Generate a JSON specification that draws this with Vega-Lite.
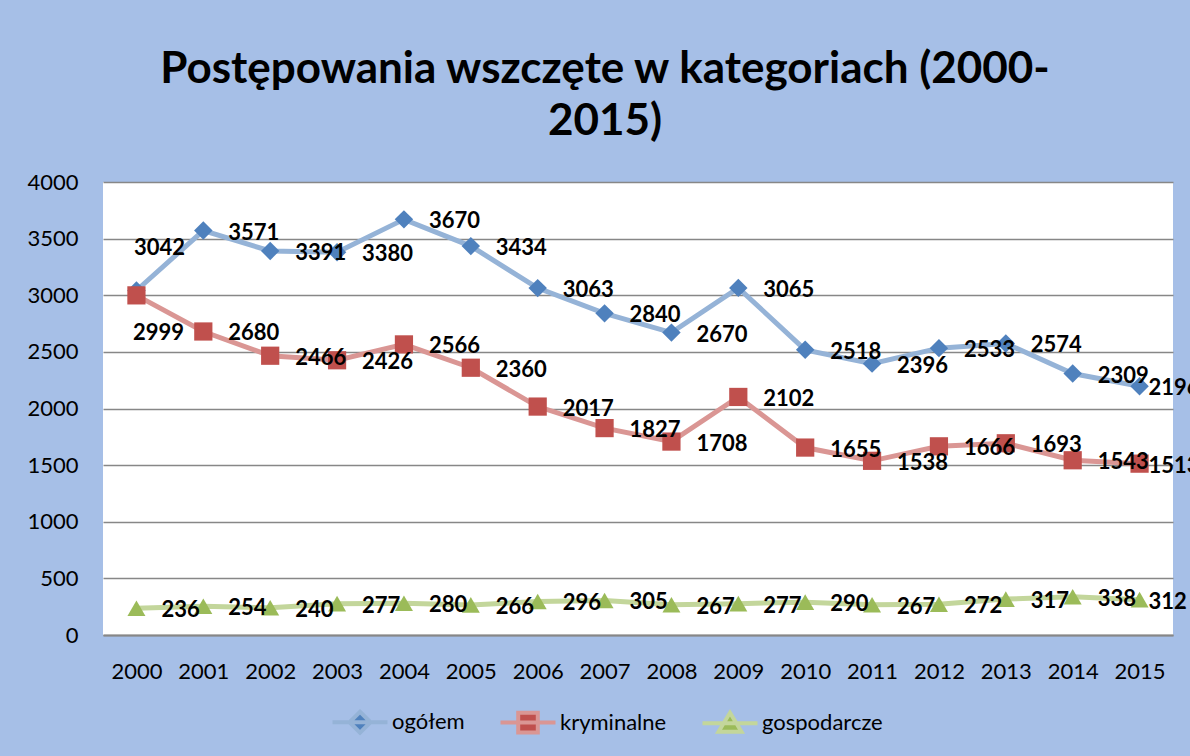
{
  "$schema": "https://vega.github.io/schema/vega-lite/v6.json",
  "width": 1070,
  "height": 453,
  "autosize": {"type": "none"},
  "padding": {"left": 103, "top": 182, "right": 17, "bottom": 121},
  "background": "#A6BFE7",
  "title": {
    "text": ["Postępowania wszczęte w kategoriach (2000-", "2015)"],
    "font": "Lato",
    "fontSize": 44,
    "fontWeight": "bold",
    "color": "#000000",
    "anchor": "middle",
    "frame": "group",
    "dx": -33,
    "lineHeight": 52,
    "offset": 27
  },
  "data": {
    "values": [
      {"year": 2000, "series": "ogółem", "value": 3042},
      {"year": 2001, "series": "ogółem", "value": 3571},
      {"year": 2002, "series": "ogółem", "value": 3391},
      {"year": 2003, "series": "ogółem", "value": 3380},
      {"year": 2004, "series": "ogółem", "value": 3670},
      {"year": 2005, "series": "ogółem", "value": 3434},
      {"year": 2006, "series": "ogółem", "value": 3063},
      {"year": 2007, "series": "ogółem", "value": 2840},
      {"year": 2008, "series": "ogółem", "value": 2670},
      {"year": 2009, "series": "ogółem", "value": 3065},
      {"year": 2010, "series": "ogółem", "value": 2518},
      {"year": 2011, "series": "ogółem", "value": 2396},
      {"year": 2012, "series": "ogółem", "value": 2533},
      {"year": 2013, "series": "ogółem", "value": 2574},
      {"year": 2014, "series": "ogółem", "value": 2309},
      {"year": 2015, "series": "ogółem", "value": 2196},
      {"year": 2000, "series": "kryminalne", "value": 2999},
      {"year": 2001, "series": "kryminalne", "value": 2680},
      {"year": 2002, "series": "kryminalne", "value": 2466},
      {"year": 2003, "series": "kryminalne", "value": 2426},
      {"year": 2004, "series": "kryminalne", "value": 2566},
      {"year": 2005, "series": "kryminalne", "value": 2360},
      {"year": 2006, "series": "kryminalne", "value": 2017},
      {"year": 2007, "series": "kryminalne", "value": 1827},
      {"year": 2008, "series": "kryminalne", "value": 1708},
      {"year": 2009, "series": "kryminalne", "value": 2102},
      {"year": 2010, "series": "kryminalne", "value": 1655},
      {"year": 2011, "series": "kryminalne", "value": 1538},
      {"year": 2012, "series": "kryminalne", "value": 1666},
      {"year": 2013, "series": "kryminalne", "value": 1693},
      {"year": 2014, "series": "kryminalne", "value": 1543},
      {"year": 2015, "series": "kryminalne", "value": 1513},
      {"year": 2000, "series": "gospodarcze", "value": 236},
      {"year": 2001, "series": "gospodarcze", "value": 254},
      {"year": 2002, "series": "gospodarcze", "value": 240},
      {"year": 2003, "series": "gospodarcze", "value": 277},
      {"year": 2004, "series": "gospodarcze", "value": 280},
      {"year": 2005, "series": "gospodarcze", "value": 266},
      {"year": 2006, "series": "gospodarcze", "value": 296},
      {"year": 2007, "series": "gospodarcze", "value": 305},
      {"year": 2008, "series": "gospodarcze", "value": 267},
      {"year": 2009, "series": "gospodarcze", "value": 277},
      {"year": 2010, "series": "gospodarcze", "value": 290},
      {"year": 2011, "series": "gospodarcze", "value": 267},
      {"year": 2012, "series": "gospodarcze", "value": 272},
      {"year": 2013, "series": "gospodarcze", "value": 317},
      {"year": 2014, "series": "gospodarcze", "value": 338},
      {"year": 2015, "series": "gospodarcze", "value": 312}
    ]
  },
  "encoding": {
    "x": {
      "field": "year",
      "type": "ordinal",
      "scale": {"type": "point", "padding": 0.5},
      "axis": {
        "title": null,
        "labelAngle": 0,
        "ticks": false,
        "grid": false,
        "domain": true,
        "domainColor": "#878787",
        "domainWidth": 2,
        "labelFont": "Lato",
        "labelFontSize": 22,
        "labelColor": "#000000",
        "labelPadding": 26
      }
    },
    "y": {
      "field": "value",
      "type": "quantitative",
      "scale": {"domain": [0, 4000], "nice": false, "zero": true},
      "axis": {
        "title": null,
        "format": "d",
        "values": [0, 500, 1000, 1500, 2000, 2500, 3000, 3500, 4000],
        "ticks": false,
        "domain": false,
        "grid": true,
        "gridColor": "#878787",
        "gridWidth": 1.6,
        "labelFont": "Lato",
        "labelFontSize": 22,
        "labelColor": "#000000",
        "labelPadding": 25
      }
    }
  },
  "layer": [
    {
      "mark": {"type": "line", "strokeWidth": 5},
      "encoding": {
        "stroke": {
          "field": "series",
          "type": "nominal",
          "scale": {"domain": ["ogółem", "kryminalne", "gospodarcze"], "range": ["#95B3D7", "#DA9694", "#C3D69B"]},
          "legend": null
        },
        "detail": {"field": "series"}
      }
    },
    {
      "mark": {"type": "point", "filled": true, "opacity": 1, "strokeWidth": 0},
      "encoding": {
        "shape": {
          "field": "series",
          "type": "nominal",
          "scale": {"domain": ["ogółem", "kryminalne", "gospodarcze"], "range": ["diamond", "square", "triangle-up"]},
          "legend": null
        },
        "fill": {
          "field": "series",
          "type": "nominal",
          "scale": {"domain": ["ogółem", "kryminalne", "gospodarcze"], "range": ["#4F81BD", "#C0504D", "#9BBB59"]},
          "legend": null
        },
        "size": {
          "field": "series",
          "type": "nominal",
          "scale": {"domain": ["ogółem", "kryminalne", "gospodarcze"], "range": [340, 324, 400]},
          "legend": null
        }
      }
    },
    {
      "transform": [{"filter": "(datum.year != 2000 || datum.series == 'gospodarcze') && datum.year != 2015"}],
      "mark": {"type": "text", "align": "left", "baseline": "middle", "dx": 25, "dy": 2, "font": "Lato", "fontSize": 22, "fontWeight": "bold", "color": "#000000"},
      "encoding": {
        "text": {"field": "value", "type": "quantitative", "format": "d"}
      }
    },
    {
      "transform": [{"filter": "datum.year == 2015"}],
      "mark": {"type": "text", "align": "left", "baseline": "middle", "dx": 9, "dy": 2, "font": "Lato", "fontSize": 22, "fontWeight": "bold", "color": "#000000"},
      "encoding": {
        "text": {"field": "value", "type": "quantitative", "format": "d"}
      }
    },
    {
      "transform": [{"filter": "datum.year == 2000 && datum.series == 'ogółem'"}],
      "mark": {"type": "text", "align": "center", "baseline": "middle", "dx": 23, "dy": -42, "font": "Lato", "fontSize": 22, "fontWeight": "bold", "color": "#000000"},
      "encoding": {
        "text": {"field": "value", "type": "quantitative", "format": "d"}
      }
    },
    {
      "transform": [{"filter": "datum.year == 2000 && datum.series == 'kryminalne'"}],
      "mark": {"type": "text", "align": "center", "baseline": "middle", "dx": 22, "dy": 38, "font": "Lato", "fontSize": 22, "fontWeight": "bold", "color": "#000000"},
      "encoding": {
        "text": {"field": "value", "type": "quantitative", "format": "d"}
      }
    },
    {
      "transform": [{"filter": "datum.value < 0"}],
      "mark": {"type": "point", "filled": true, "opacity": 1, "strokeWidth": 4},
      "encoding": {
        "shape": {
          "field": "series",
          "type": "nominal",
          "scale": {"domain": ["ogółem", "kryminalne", "gospodarcze"], "range": ["M-2.75,0H2.75M0,-1.05L1.05,0L0,1.05L-1.05,0Z", "M-2.75,0H2.75M-0.98,-0.98H0.98V0.98H-0.98Z", "M-2.75,0H2.75M0,-1.05L1.15,0.85H-1.15Z"]},
          "legend": {
            "title": null,
            "orient": "none",
            "legendX": 230,
            "legendY": 528,
            "direction": "horizontal",
            "columnPadding": 27,
            "padding": 0,
            "labelFont": "Lato",
            "labelFontSize": 22,
            "labelColor": "#000000",
            "symbolSize": 400,
            "symbolStrokeWidth": 4,
            "symbolOpacity": 1,
            "symbolOffset": 15,
            "labelOffset": 20
          }
        },
        "fill": {
          "field": "series",
          "type": "nominal",
          "scale": {"domain": ["ogółem", "kryminalne", "gospodarcze"], "range": ["#4F81BD", "#C0504D", "#9BBB59"]}
        },
        "stroke": {
          "field": "series",
          "type": "nominal",
          "scale": {"domain": ["ogółem", "kryminalne", "gospodarcze"], "range": ["#95B3D7", "#DA9694", "#C3D69B"]}
        }
      }
    }
  ],
  "resolve": {"scale": {"shape": "independent", "fill": "independent", "stroke": "independent", "size": "independent"}},
  "config": {
    "view": {"stroke": null, "fill": "#FFFFFF"}
  }
}
